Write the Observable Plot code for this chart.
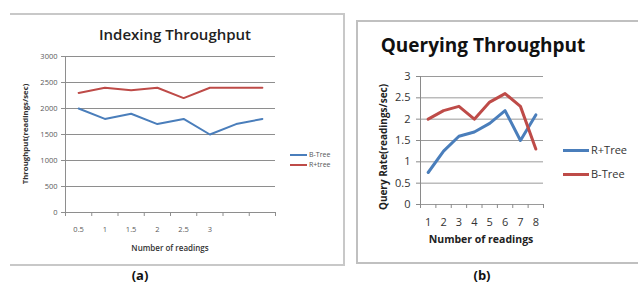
<!DOCTYPE html>
<html><head><meta charset="utf-8">
<script src="https://cdn.jsdelivr.net/npm/d3@7"></script>
<script src="https://cdn.jsdelivr.net/npm/@observablehq/plot@0.6"></script>
<style>
body{margin:0;background:#fff;}
#root{position:relative;width:638px;height:284px;overflow:hidden;font-family:"Open Sans",sans-serif;background:#fff;}
.abs{position:absolute;white-space:nowrap;line-height:1.1;}
.c{transform:translate(-50%,-50%);}
.rot{transform:translate(-50%,-50%) rotate(-90deg);}
.leg{position:absolute;height:0;}
</style></head>
<body><div id="root"></div>
<script>
// ---- Data: (a) Indexing Throughput ----
const aLabels = ["0.5","1","1.5","2","2.5","3","",""];
const aBTree = [2000,1800,1900,1700,1800,1500,1700,1800];
const aRTree = [2300,2400,2350,2400,2200,2400,2400,2400];
const aYTicks = [0,500,1000,1500,2000,2500,3000];
// ---- Data: (b) Querying Throughput ----
const bLabels = ["1","2","3","4","5","6","7","8"];
const bRTree = [0.75,1.25,1.6,1.7,1.9,2.2,1.5,2.1];
const bBTree = [2.0,2.2,2.3,2.0,2.4,2.6,2.3,1.3];
const bYTicks = [0,0.5,1,1.5,2,2.5,3];

const BLUE = "#4A7EBB", RED = "#BE4B48";
const root = document.getElementById("root");

function addDiv(cls, css, html){
  const d = document.createElement("div");
  d.className = cls; d.style.cssText = css; d.innerHTML = html; root.appendChild(d); return d;
}

function chart(opts){
  const n = opts.labels.length;
  const centers = d3.range(n).map(i => i + 0.5);
  const bounds = d3.range(n + 1);
  const p = Plot.plot({
    width: opts.width, height: opts.height,
    marginLeft: opts.ml, marginRight: opts.mr, marginTop: opts.mt, marginBottom: opts.mb,
    style: {fontFamily: opts.font, fontSize: opts.tickFont + "px", color: opts.tickColor, background: "transparent", overflow: "visible"},
    x: {type: "linear", domain: [0, n]},
    y: {domain: [opts.yTicks[0], opts.yTicks[opts.yTicks.length - 1]]},
    marks: [
      Plot.ruleY(opts.yTicks, {stroke: opts.grid, strokeWidth: 1, strokeOpacity: 1}),
      Plot.ruleX([0], {stroke: opts.axis, strokeWidth: 1}),
      Plot.axisY({ticks: opts.yTicks, tickSize: 4, tickPadding: opts.yPad, stroke: opts.axis, strokeOpacity: 1, label: null, tickFormat: opts.yFmt, fill: opts.tickColor}),
      Plot.axisX({ticks: bounds, tickSize: 4, tickPadding: 0, stroke: opts.axis, strokeOpacity: 1, label: null, tickFormat: () => ""}),
      Plot.axisX({ticks: centers, tickSize: 0, tickPadding: opts.xPad, label: null, tickFormat: d => opts.labels[Math.floor(d)], fill: opts.tickColor}),
      ...opts.series.map(s => Plot.lineY(s.values, {x: (d, i) => i + 0.5, y: d => d, stroke: s.color, strokeWidth: opts.lw}))
    ]
  });
  p.style.position = "absolute";
  p.style.left = opts.left + "px";
  p.style.top = opts.top + "px";
  root.appendChild(p);
}

// panel borders
addDiv("abs", "left:10px;top:13px;width:335px;height:253px;border-top:2px solid #c8c8c8;border-bottom:2px solid #c8c8c8;border-right:2px solid #c8c8c8;box-sizing:border-box;", "");
addDiv("abs", "left:356px;top:20px;width:290px;height:244px;border:2px solid #c0c0c0;box-sizing:border-box;", "");

// chart (a)
chart({
  left: 10, top: 14, width: 335, height: 252, ml: 55, mr: 70, mt: 42, mb: 54,
  labels: aLabels, yTicks: aYTicks, yFmt: d => String(d), yPad: 4, xPad: 14,
  font: "Open Sans", tickFont: 7.5, tickColor: "#595959", grid: "#8e8e8e", axis: "#8e8e8e", lw: 2,
  series: [{values: aBTree, color: BLUE}, {values: aRTree, color: RED}]
});
// chart (b)
chart({
  left: 356, top: 21, width: 282, height: 242, ml: 64, mr: 95, mt: 55, mb: 59,
  labels: bLabels, yTicks: bYTicks, yFmt: d => String(d), yPad: 6, xPad: 14,
  font: "Open Sans", tickFont: 11, tickColor: "#333", grid: "#9a9a9a", axis: "#8a8a8a", lw: 3,
  series: [{values: bRTree, color: BLUE}, {values: bBTree, color: RED}]
});

// texts (a)
addDiv("abs c", "left:175px;top:34px;font-size:15px;color:#222;font-weight:600;", "Indexing Throughput");
addDiv("abs rot", "left:25px;top:134px;font-size:7.8px;color:#333;font-weight:700;", "Throughput(readings/sec)");
addDiv("abs c", "left:170px;top:248px;font-size:8px;color:#333;font-weight:600;", "Number of readings");
addDiv("abs c", "left:140px;top:275px;font-size:13px;color:#111;font-weight:700;", "(a)");
addDiv("leg", "left:290px;top:154px;width:17px;border-top:2px solid " + BLUE + ";", "");
addDiv("leg", "left:290px;top:164px;width:17px;border-top:2px solid " + RED + ";", "");
addDiv("abs", "left:309px;top:151px;font-size:7px;color:#555;", "B-Tree");
addDiv("abs", "left:309px;top:161px;font-size:7px;color:#555;", "R+tree");

// texts (b)
addDiv("abs c", "left:483px;top:45px;font-size:19px;color:#111;font-weight:700;", "Querying Throughput");
addDiv("abs rot", "left:383px;top:147px;font-size:10px;color:#222;font-weight:700;", "Query Rate(readings/sec)");
addDiv("abs c", "left:481px;top:240px;font-size:10.5px;color:#222;font-weight:700;", "Number of readings");
addDiv("abs c", "left:482px;top:275px;font-size:13px;color:#111;font-weight:700;", "(b)");
addDiv("leg", "left:563px;top:149px;width:26px;border-top:3px solid " + BLUE + ";", "");
addDiv("leg", "left:563px;top:173px;width:26px;border-top:3px solid " + RED + ";", "");
addDiv("abs", "left:591px;top:144px;font-size:11px;color:#333;", "R+Tree");
addDiv("abs", "left:591px;top:168px;font-size:11px;color:#333;", "B-Tree");
</script>
</body></html>
